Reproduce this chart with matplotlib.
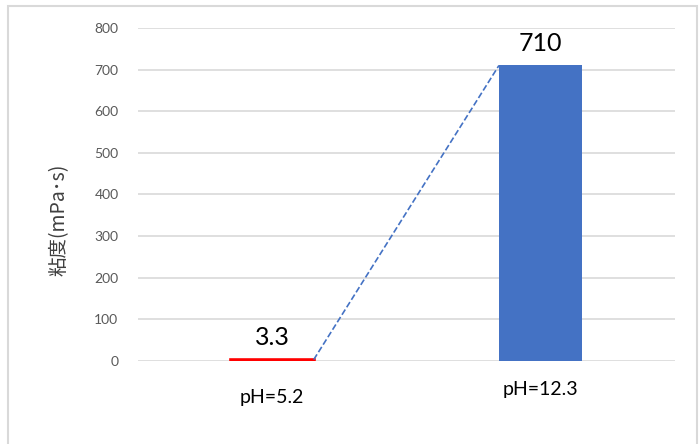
import matplotlib.pyplot as plt
from matplotlib.patches import Rectangle
from matplotlib.transforms import blended_transform_factory

# Data
categories = ['pH=5.2', 'pH=12.3']
viscosity = [3.3, 710]
value_labels = ['3.3', '710']
bar_colors = ['#FF0000', '#4472C4']
y_ticks = [0, 100, 200, 300, 400, 500, 600, 700, 800]

plt.rcParams['font.family'] = ['Lato', 'Noto Sans CJK JP', 'DejaVu Sans']

fig = plt.figure(figsize=(7, 4.44), dpi=100)
ax = fig.add_axes([0.197, 0.187, 0.767, 0.750])

# Chart border like Excel
fig.patches.append(Rectangle((0.011, -0.01), 0.985, 0.997, transform=fig.transFigure,
                             fill=False, edgecolor='#D9D9D9', linewidth=1.5))

x = [0, 1]
bw = 0.31
ax.bar(x, viscosity, width=bw, color=bar_colors, edgecolor=bar_colors,
       linewidth=[2.6, 0], zorder=3)

# dashed connector between bar tops
ax.plot([x[0] + bw / 2, x[1] - bw / 2], [viscosity[0], viscosity[1]],
        linestyle='--', color='#4472C4', linewidth=1.2, zorder=4)

for xi, v, lab in zip(x, viscosity, value_labels):
    ax.text(xi, v + 26, lab, ha='center', va='bottom', fontsize=18, color='black')

ax.set_xlim(-0.5, 1.5)
ax.set_ylim(0, 800)
ax.set_yticks(y_ticks)
ax.tick_params(axis='y', length=0, pad=14, labelsize=10, labelcolor='#595959')
ax.set_xticks([])
ax.grid(axis='y', color='#D9D9D9', linewidth=1.2, zorder=0)
for s in ax.spines.values():
    s.set_visible(False)

# category labels
trans = blended_transform_factory(ax.transData, ax.transAxes)
ax.text(x[0], -0.11, categories[0], transform=trans, ha='center', va='center', fontsize=14)
ax.text(x[1], -0.087, categories[1], transform=trans, ha='center', va='center', fontsize=14)

fig.text(0.085, 0.505, '粘度(mPa･s)', rotation=90, ha='center', va='center',
         fontsize=14, family=['Noto Sans CJK JP', 'DejaVu Sans'], color='#404040')

fig.savefig('out.png', dpi=100)
